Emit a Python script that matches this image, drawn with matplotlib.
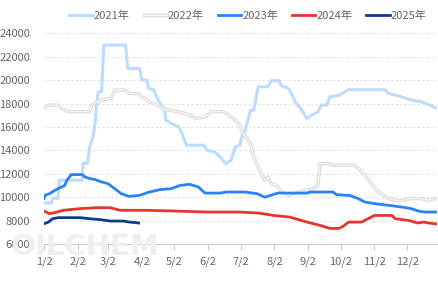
import matplotlib
matplotlib.use("Agg")
import matplotlib.pyplot as plt
import matplotlib.patheffects as pe

plt.rcParams["font.family"] = ["Noto Sans CJK SC", "DejaVu Sans"]

# x = days after 1/2, y = price
X2021 = [0, 7, 8, 13, 14, 35, 36, 40, 42, 45, 47, 48, 50, 53, 55, 75, 77, 88, 90, 95, 96,
         101, 105, 108, 111, 112, 117, 124, 127, 131, 147, 150, 157, 162, 167, 172, 176,
         180, 183, 185, 190, 193, 197, 206, 209, 216, 219, 223, 226, 231, 236, 242, 246,
         252, 255, 260, 263, 272, 277, 280, 314, 317, 329, 338, 347, 355, 360, 362]
Y2021 = [9500, 9500, 9900, 9900, 11450, 11450, 12900, 12900, 14300, 15150, 16300, 17700,
         19000, 19000, 23000, 23000, 21000, 21000, 20000, 20000, 19300, 19150, 18300,
         17860, 17430, 16580, 16300, 16000, 15440, 14440, 14440, 14000, 13870, 13440,
         12870, 13150, 14300, 14440, 15440, 15720, 17430, 17430, 19430, 19430, 19950,
         19950, 19430, 19400, 19150, 18150, 17580, 16720, 17000, 17300, 17860, 17860,
         18570, 18720, 19000, 19180, 19180, 18860, 18570, 18300, 18150, 17860, 17630, 17600]

X2022 = [0, 5, 13, 16, 22, 42, 44, 52, 62, 65, 75, 78, 87, 90, 93, 97, 104, 111, 119, 130,
         140, 148, 154, 165, 170, 176, 180, 183, 190, 193, 197, 203, 206, 209, 214, 219,
         225, 229, 240, 248, 252, 254, 263, 265, 286, 291, 295, 301, 308, 317, 326, 338,
         347, 354, 360, 362]
Y2022 = [17580, 17860, 17860, 17580, 17300, 17300, 17860, 18300, 18440, 19150, 19150,
         18860, 18860, 18570, 18440, 18150, 17860, 17500, 17380, 17150, 16720, 16860,
         17300, 17300, 17000, 16580, 16150, 15440, 14580, 13440, 12580, 11440, 11720,
         11150, 11000, 10440, 10160, 10300, 10580, 10730, 11000, 12870, 12870, 12730,
         12730, 12300, 11870, 11150, 10440, 9880, 9670, 9880, 9880, 9730, 9880, 9880]

X2023 = [0, 1, 5, 10, 13, 19, 21, 25, 35, 38, 42, 47, 53, 59, 65, 71, 78, 88, 97, 107, 117,
         125, 134, 142, 148, 162, 168, 185, 196, 203, 215, 242, 245, 266, 269, 277, 281,
         289, 295, 304, 317, 329, 338, 344, 350, 362]
Y2023 = [9880, 10160, 10300, 10580, 10730, 11000, 11440, 11930, 11930, 11720, 11590, 11500,
         11300, 11150, 10730, 10300, 10070, 10160, 10440, 10650, 10730, 11000, 11100,
         10870, 10350, 10350, 10440, 10440, 10300, 10000, 10350, 10350, 10440, 10440,
         10220, 10160, 10160, 9880, 9590, 9450, 9300, 9160, 9020, 8820, 8730, 8730]

X2024 = [0, 5, 12, 18, 33, 48, 61, 70, 93, 119, 150, 180, 198, 211, 226, 242, 254, 263,
         271, 275, 280, 292, 301, 304, 320, 323, 335, 344, 349, 355, 362]
Y2024 = [8820, 8590, 8730, 8880, 9020, 9100, 9100, 8880, 8880, 8820, 8730, 8730, 8640,
         8440, 8300, 7870, 7590, 7330, 7330, 7500, 7870, 7870, 8300, 8440, 8440, 8160,
         8020, 7790, 7870, 7780, 7700]

X2025 = [0, 4, 8, 13, 33, 42, 52, 61, 73, 79, 85, 87]
Y2025 = [7730, 7870, 8160, 8250, 8250, 8160, 8080, 7960, 7960, 7870, 7820, 7790]

TICK_DAYS = [0, 31, 59, 90, 120, 151, 181, 212, 243, 273, 304, 334]
TICK_LABELS = ["1/2", "2/2", "3/2", "4/2", "5/2", "6/2", "7/2", "8/2", "9/2", "10/2",
               "11/2", "12/2"]
Y_TICKS = [6000, 8000, 10000, 12000, 14000, 16000, 18000, 20000, 22000, 24000]

TXT = "#666666"

fig = plt.figure(figsize=(4.39, 2.83), dpi=100)
ax = fig.add_axes([44 / 439, 39 / 283, 393 / 439, 210.7 / 283])

# faint watermark behind everything
fig.text(10 / 439, 1 - 247 / 283, "OILCHEM", fontsize=21, fontweight="bold",
         color="#efefef", ha="left", va="center", zorder=0, family="DejaVu Sans")

ax.plot(X2021, Y2021, color="#bcdbff", lw=2.2, label="2021年", zorder=2)
ax.plot(X2022, Y2022, color="#f5f5f5", lw=1.0, label="2022年", zorder=2,
        path_effects=[pe.Stroke(linewidth=2.4, foreground="#d9d9d9"), pe.Normal()])
ax.plot(X2023, Y2023, color="#2a82f7", lw=2.0, label="2023年", zorder=3)
ax.plot(X2024, Y2024, color="#e5352b", lw=2.0, label="2024年", zorder=3)
ax.plot(X2025, Y2025, color="#0d3b8c", lw=2.0, label="2025年", zorder=4)

ax.set_xlim(0, 361.5)
ax.set_ylim(6000, 24000)
ax.set_yticks(Y_TICKS)
ax.set_xticks(TICK_DAYS, TICK_LABELS)
ax.tick_params(axis="y", length=0, labelsize=8, colors=TXT, pad=10)
ax.tick_params(axis="x", length=4, width=0.8, color="#cccccc", labelsize=8,
               labelcolor=TXT, pad=5)
for s in ["top", "right", "left"]:
    ax.spines[s].set_visible(False)
ax.spines["bottom"].set_color("#cccccc")
ax.grid(axis="y", color="#e0e0e0", lw=0.8, ls=(0, (2, 2)), zorder=0)
ax.set_axisbelow(True)
ax.patch.set_alpha(0)

fig.legend(loc="center", bbox_to_anchor=(0.565, 1 - 15.5 / 283), ncol=5, frameon=False,
           fontsize=8, handlelength=2.1, columnspacing=1.25, handletextpad=0.1,
           labelcolor=TXT)

fig.savefig("out.png", dpi=100)
